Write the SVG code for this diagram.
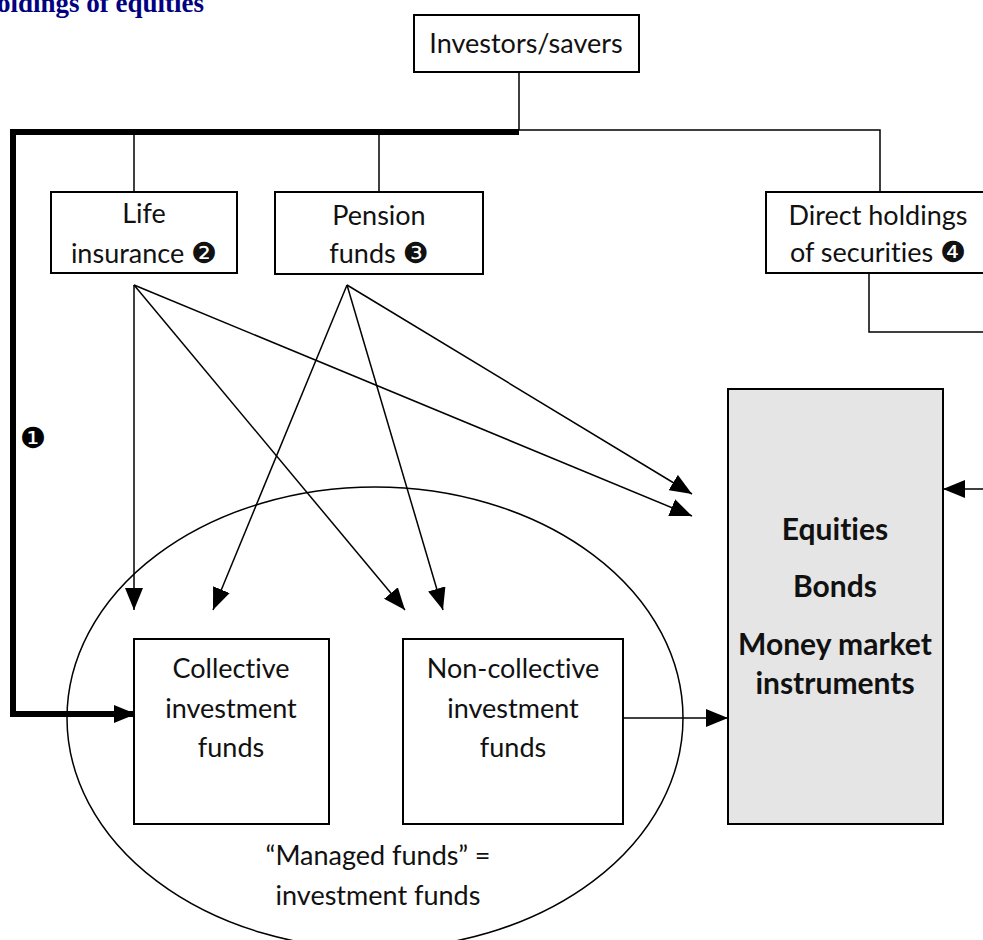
<svg xmlns="http://www.w3.org/2000/svg" width="983" height="940" viewBox="0 0 983 940">
<style>
.box{fill:#fff;stroke:#000;stroke-width:2}
.eq{fill:#e5e5e5;stroke:#000;stroke-width:2}
.t{font-family:Lato,"DejaVu Sans",sans-serif;font-size:27px;fill:#111;text-anchor:middle;font-variant-ligatures:none}
.b{font-family:Lato,"DejaVu Sans",sans-serif;font-size:30px;font-weight:bold;fill:#111;text-anchor:middle;font-variant-ligatures:none}
.d{font-family:"DejaVu Sans",sans-serif;font-size:29px}
.ln{fill:none;stroke:#000;stroke-width:1.5}
.thick{fill:none;stroke:#000;stroke-width:6}
</style>
<defs>
<marker id="ah" viewBox="0 0 22 18" refX="22" refY="9" markerWidth="22" markerHeight="18" markerUnits="userSpaceOnUse" orient="auto">
<polygon points="0,0 22,9 0,18" fill="#000"/>
</marker>
</defs>
<rect width="983" height="940" fill="#fff"/>
<text x="-3" y="12" font-family="'Liberation Serif',serif" font-size="27" font-weight="bold" fill="#000080">oldings of equities</text>
<g id="managed-funds">
<ellipse cx="375" cy="718" rx="308" ry="231" fill="none" stroke="#000" stroke-width="1.5"/>
<text class="t" x="378" y="865">“Managed funds” =</text>
<text class="t" x="378" y="905">investment funds</text>
</g>
<g id="connectors">
<path class="ln" d="M519,72 V130 H880 V192"/>
<path class="ln" d="M134,130 V192"/>
<path class="ln" d="M379,130 V192"/>
<path class="ln" d="M869,273 V332 H1000 V489 H943" marker-end="url(#ah)"/>
<path class="thick" d="M519,132 H13 V714 H136" marker-end="url(#ah)"/>
<line class="ln" x1="134" y1="285" x2="134" y2="610" marker-end="url(#ah)"/>
<line class="ln" x1="134" y1="285" x2="405" y2="610" marker-end="url(#ah)"/>
<line class="ln" x1="134" y1="285" x2="692" y2="516" marker-end="url(#ah)"/>
<line class="ln" x1="347" y1="285" x2="213" y2="610" marker-end="url(#ah)"/>
<line class="ln" x1="347" y1="285" x2="443" y2="610" marker-end="url(#ah)"/>
<line class="ln" x1="347" y1="285" x2="692" y2="494" marker-end="url(#ah)"/>
<line class="ln" x1="623" y1="718" x2="728" y2="718" marker-end="url(#ah)"/>
</g>
<text class="d" x="33" y="448" text-anchor="middle">❶</text>
<g id="investors">
<rect class="box" x="414" y="15" width="225" height="57"/>
<text class="t" x="526" y="53">Investors/savers</text>
</g>
<g id="life-insurance">
<rect class="box" x="51" y="192" width="186" height="81"/>
<text class="t" x="144" y="223">Life</text>
<text class="t" x="144" y="263">insurance <tspan class="d">❷</tspan></text>
</g>
<g id="pension-funds">
<rect class="box" x="275" y="192" width="208" height="82"/>
<text class="t" x="379" y="225">Pension</text>
<text class="t" x="379" y="263">funds <tspan class="d">❸</tspan></text>
</g>
<g id="direct-holdings">
<rect class="box" x="766" y="192" width="240" height="81"/>
<text class="t" x="878" y="225">Direct holdings</text>
<text class="t" x="878" y="262">of securities <tspan class="d">❹</tspan></text>
</g>
<g id="collective">
<rect class="box" x="134" y="639" width="195" height="185"/>
<text class="t" x="231" y="678">Collective</text>
<text class="t" x="231" y="718">investment</text>
<text class="t" x="231" y="757">funds</text>
</g>
<g id="non-collective">
<rect class="box" x="403" y="639" width="220" height="185"/>
<text class="t" x="513" y="678">Non-collective</text>
<text class="t" x="513" y="718">investment</text>
<text class="t" x="513" y="757">funds</text>
</g>
<g id="securities">
<rect class="eq" x="728" y="389" width="215" height="435"/>
<text class="b" x="835" y="540">Equities</text>
<text class="b" x="835" y="597">Bonds</text>
<text class="b" x="835" y="655">Money market</text>
<text class="b" x="835" y="694">instruments</text>
</g>
</svg>
